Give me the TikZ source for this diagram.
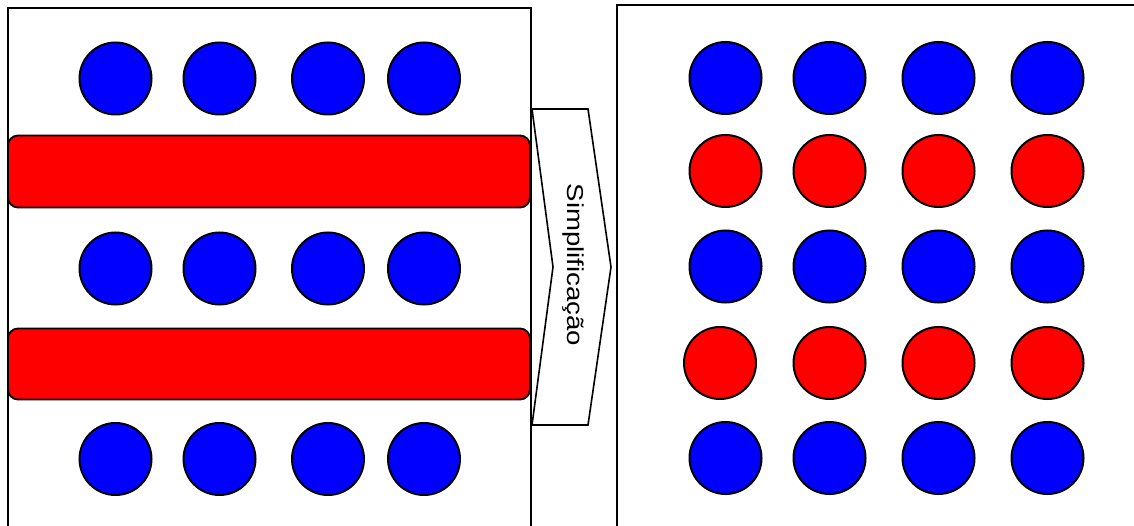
\documentclass[tikz,border=0pt]{standalone}
\usepackage{fontspec}
\newfontfamily\arialfont{Liberation Sans}
\begin{document}
\begin{tikzpicture}[x=1pt,y=-1pt,
  frame/.style={draw=black,line width=2pt,fill=white},
  bar/.style={draw=black,line width=1.8pt,fill=red,rounded corners=10pt},
  dot/.style={circle,draw=black,line width=2pt,minimum size=72pt,inner sep=0pt},
  bdot/.style={dot,fill=blue},
  rdot/.style={dot,fill=red},
  chev/.style={draw=black,line width=1.6pt,fill=white,line join=miter}]
\useasboundingbox (0,0) rectangle (1134,526);
\clip (0,0) rectangle (1134,526);
% frames
\draw[frame] (8,8) rectangle (531,560);
\draw[frame] (617,5) rectangle (1160,560);
% left circles
\foreach \r/\y in {1/78.5,2/268.5,3/459}{
  \foreach \c/\x in {1/115.5,2/219.5,3/328,4/424}{
    \node[bdot] (l\r\c) at (\x,\y) {};
  }
}
% red bars
\draw[bar] (8,135.5) rectangle (530,207.5);
\draw[bar] (8,328.5) rectangle (530,399.5);
% chevron
\coordinate (ctl) at (532,109);
\coordinate (ctr) at (588,109);
\coordinate (ctip) at (611,267);
\coordinate (cbr) at (588,425);
\coordinate (cbl) at (532,425);
\coordinate (cnotch) at (553,267);
\draw[chev] (ctl) -- (ctr) -- (ctip) -- (cbr) -- (cbl) -- (cnotch) -- cycle;
\node[rotate=-90,anchor=base,inner sep=0pt,font=\arialfont\fontsize{23}{26}\selectfont] (lbl) at (567.5,265) {\scalebox{1.2}[1]{Simplificação}};
% right circles
\foreach \r/\y/\s in {1/78/bdot,2/171/rdot,3/266.5/bdot,5/458/bdot}{
  \foreach \c/\x in {1/725.5,2/829.5,3/938.5,4/1047.5}{
    \node[\s] (r\r\c) at (\x,\y) {};
  }
}
\node[rdot] (r41) at (720,363) {};
\foreach \c/\x in {2/829.5,3/938.5,4/1047.5}{
  \node[rdot] (r4\c) at (\x,363) {};
}
\end{tikzpicture}
\end{document}
